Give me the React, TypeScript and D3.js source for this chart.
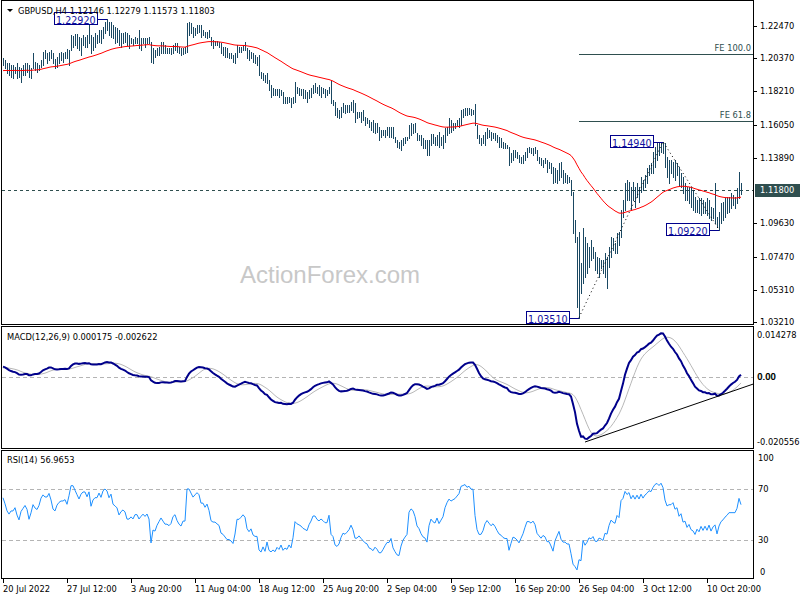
import * as d3 from "d3";

// GBPUSD H4 bars, 20 Jul 2022 04:00 .. 13 Oct 2022 16:00, prices in pips (x 1e-4)
const HIGH = [
  12038, 12025, 12006, 12006, 11993, 11993, 11980, 12006, 11980, 11973,
  11993, 12006, 12006, 11993, 11973, 12071, 12012, 12006, 11993, 12025,
  12077, 12090, 12071, 12077, 12090, 12071, 12032, 12045, 12071, 12077,
  12071, 12077, 12097, 12090, 12188, 12181, 12194, 12194, 12175, 12168,
  12188, 12175, 12188, 12253, 12188, 12175, 12201, 12188, 12220, 12220,
  12240, 12272, 12292, 12272, 12272, 12253, 12240, 12233, 12220, 12201,
  12201, 12207, 12201, 12188, 12168, 12162, 12175, 12168, 12220, 12168,
  12168, 12168, 12168, 12175, 12142, 12103, 12090, 12103, 12110, 12142,
  12142, 12123, 12103, 12103, 12103, 12123, 12136, 12136, 12110, 12103,
  12103, 12110, 12266, 12272, 12266, 12240, 12233, 12253, 12253, 12253,
  12220, 12207, 12207, 12220, 12175, 12155, 12149, 12149, 12142, 12136,
  12110, 12110, 12103, 12071, 12071, 12058, 12071, 12123, 12110, 12110,
  12123, 12142, 12103, 12090, 12077, 12071, 12058, 12045, 12058, 11947,
  11941, 11928, 11941, 11895, 11863, 11843, 11837, 11837, 11837, 11830,
  11817, 11785, 11785, 11785, 11778, 11785, 11882, 11850, 11843, 11837,
  11837, 11830, 11817, 11830, 11843, 11863, 11876, 11850, 11863, 11850,
  11843, 11837, 11830, 11850, 11895, 11765, 11752, 11713, 11700, 11720,
  11746, 11733, 11733, 11733, 11752, 11765, 11746, 11687, 11687, 11687,
  11700, 11655, 11648, 11635, 11622, 11635, 11616, 11616, 11590, 11570,
  11570, 11570, 11590, 11590, 11590, 11590, 11525, 11505, 11492, 11505,
  11518, 11525, 11525, 11603, 11616, 11609, 11616, 11551, 11538, 11538,
  11518, 11505, 11505, 11505, 11544, 11544, 11525, 11538, 11557, 11525,
  11538, 11583, 11590, 11648, 11635, 11616, 11616, 11635, 11648, 11700,
  11707, 11713, 11713, 11713, 11707, 11700, 11739, 11603, 11538, 11518,
  11538, 11557, 11583, 11570, 11557, 11551, 11551, 11538, 11525, 11518,
  11492, 11486, 11473, 11460, 11421, 11440, 11440, 11427, 11408, 11395,
  11408, 11427, 11453, 11460, 11453, 11453, 11460, 11440, 11395, 11388,
  11375, 11388, 11375, 11362, 11356, 11330, 11323, 11310, 11356, 11362,
  11310, 11291, 11278, 11265, 11245, 11167, 10985, 10875, 10907, 10706,
  10933, 10875, 10836, 10810, 10855, 10810, 10777, 10745, 10738, 10725,
  10725, 10771, 10745, 10810, 10875, 10868, 10836, 10901, 10907, 11050,
  11115, 11226, 11245, 11232, 11200, 11232, 11200, 11226, 11200, 11265,
  11245, 11278, 11323, 11343, 11356, 11427, 11460, 11486, 11492, 11492,
  11494, 11486, 11395, 11375, 11375, 11362, 11375, 11356, 11330, 11291,
  11265, 11226, 11200, 11200, 11200, 11180, 11135, 11115, 11128, 11128,
  11115, 11102, 11128, 11115, 11070, 11063, 11226, 11005, 11037, 11096,
  11102, 11128, 11135, 11135, 11161, 11148, 11135, 11193, 11297, 11228,
];

const LOW = [
  11993, 11973, 11941, 11928, 11915, 11908, 11941, 11908, 11915, 11882,
  11928, 11928, 11947, 11915, 11908, 11973, 11960, 11947, 11960, 11980,
  11993, 12038, 12006, 12025, 12038, 12006, 11973, 11980, 12006, 12025,
  12012, 12038, 12038, 11993, 12090, 12110, 12123, 12103, 12090, 12058,
  12123, 12110, 12110, 12136, 12071, 12090, 12110, 12136, 12142, 12136,
  12168, 12201, 12220, 12188, 12175, 12168, 12136, 12142, 12123, 12110,
  12136, 12142, 12123, 12103, 12136, 12123, 12136, 12136, 12103, 12090,
  12136, 12110, 12136, 12136, 12012, 12006, 12045, 12058, 12058, 12071,
  12071, 12071, 12071, 12071, 12064, 12071, 12090, 12077, 12071, 12058,
  12064, 12071, 12077, 12188, 12201, 12175, 12188, 12201, 12207, 12175,
  12188, 12175, 12168, 12175, 12123, 12103, 12123, 12123, 12110, 12071,
  12058, 12045, 12045, 12038, 12038, 12012, 12006, 12045, 12077, 12077,
  12090, 12090, 12038, 12025, 12038, 12012, 12006, 11993, 11928, 11908,
  11895, 11882, 11876, 11830, 11785, 11798, 11798, 11798, 11785, 11798,
  11746, 11746, 11746, 11752, 11720, 11746, 11752, 11811, 11798, 11798,
  11778, 11778, 11752, 11778, 11785, 11811, 11817, 11811, 11798, 11785,
  11811, 11785, 11798, 11811, 11746, 11733, 11668, 11655, 11648, 11655,
  11687, 11681, 11687, 11687, 11700, 11687, 11622, 11648, 11655, 11622,
  11635, 11603, 11616, 11590, 11570, 11557, 11551, 11557, 11505, 11525,
  11538, 11525, 11538, 11525, 11525, 11518, 11492, 11460, 11453, 11440,
  11473, 11486, 11505, 11518, 11538, 11551, 11557, 11505, 11505, 11473,
  11453, 11453, 11408, 11408, 11473, 11486, 11473, 11473, 11460, 11473,
  11453, 11492, 11538, 11551, 11557, 11570, 11583, 11603, 11590, 11603,
  11655, 11668, 11668, 11674, 11668, 11674, 11603, 11518, 11486, 11473,
  11486, 11473, 11518, 11525, 11505, 11518, 11505, 11492, 11460, 11460,
  11453, 11453, 11453, 11343, 11362, 11375, 11395, 11388, 11362, 11356,
  11356, 11375, 11395, 11427, 11421, 11408, 11421, 11375, 11356, 11343,
  11330, 11356, 11297, 11323, 11291, 11226, 11232, 11226, 11245, 11265,
  11226, 11232, 11226, 11232, 11148, 10901, 10842, 10420, 10351, 10511,
  10576, 10615, 10641, 10680, 10725, 10738, 10660, 10641, 10615, 10673,
  10641, 10615, 10543, 10680, 10745, 10790, 10771, 10771, 10823, 10875,
  11005, 11050, 11115, 11115, 11050, 11115, 11070, 11135, 11102, 11167,
  11180, 11200, 11226, 11278, 11291, 11291, 11330, 11375, 11408, 11427,
  11421, 11330, 11265, 11226, 11291, 11265, 11245, 11278, 11213, 11200,
  11161, 11115, 11115, 11096, 11070, 11050, 11037, 11037, 11031, 11018,
  11031, 11031, 11018, 10998, 10985, 10998, 10966, 10940, 10922, 10966,
  10985, 11005, 11031, 11037, 11063, 11083, 11063, 11096, 11128, 11157,
];

const CLOSE = [
  12006, 11986, 11960, 11947, 11960, 11960, 11973, 11947, 11928, 11960,
  11973, 11986, 11973, 11934, 11960, 11999, 11986, 11980, 11999, 12038,
  12058, 12051, 12051, 12071, 12051, 12019, 12012, 12038, 12051, 12058,
  12058, 12064, 12051, 12090, 12155, 12155, 12142, 12129, 12116, 12142,
  12155, 12155, 12142, 12168, 12123, 12155, 12168, 12168, 12194, 12181,
  12220, 12233, 12227, 12207, 12227, 12194, 12188, 12181, 12155, 12168,
  12175, 12168, 12142, 12142, 12149, 12142, 12155, 12155, 12142, 12149,
  12155, 12149, 12155, 12142, 12038, 12077, 12071, 12090, 12103, 12116,
  12103, 12090, 12090, 12084, 12090, 12110, 12116, 12097, 12084, 12077,
  12090, 12090, 12233, 12233, 12220, 12207, 12220, 12233, 12227, 12201,
  12201, 12188, 12201, 12181, 12142, 12136, 12136, 12129, 12123, 12090,
  12084, 12071, 12058, 12058, 12051, 12038, 12058, 12097, 12097, 12103,
  12110, 12103, 12064, 12051, 12058, 12032, 12025, 12025, 11941, 11921,
  11934, 11895, 11921, 11843, 11824, 11830, 11811, 11824, 11804, 11817,
  11765, 11772, 11759, 11772, 11746, 11778, 11843, 11830, 11824, 11817,
  11804, 11798, 11791, 11811, 11824, 11843, 11843, 11830, 11824, 11830,
  11824, 11817, 11817, 11837, 11759, 11746, 11687, 11674, 11681, 11700,
  11713, 11707, 11713, 11720, 11733, 11713, 11668, 11668, 11674, 11661,
  11648, 11635, 11629, 11603, 11596, 11583, 11590, 11577, 11551, 11551,
  11557, 11564, 11570, 11570, 11577, 11531, 11505, 11479, 11473, 11492,
  11505, 11512, 11518, 11583, 11596, 11590, 11570, 11531, 11518, 11492,
  11473, 11466, 11440, 11492, 11518, 11505, 11499, 11518, 11492, 11505,
  11518, 11557, 11583, 11603, 11596, 11603, 11609, 11622, 11635, 11681,
  11687, 11694, 11687, 11694, 11687, 11687, 11609, 11538, 11505, 11505,
  11518, 11544, 11557, 11544, 11531, 11538, 11525, 11505, 11486, 11479,
  11466, 11460, 11460, 11375, 11395, 11414, 11408, 11395, 11375, 11388,
  11401, 11421, 11440, 11440, 11434, 11440, 11427, 11388, 11375, 11362,
  11369, 11362, 11336, 11336, 11310, 11271, 11297, 11310, 11323, 11278,
  11258, 11258, 11245, 11245, 11161, 10953, 10855, 10650, 10712, 10673,
  10823, 10712, 10738, 10777, 10758, 10777, 10693, 10686, 10712, 10699,
  10673, 10725, 10712, 10777, 10823, 10803, 10790, 10855, 10836, 11018,
  11050, 11161, 11135, 11167, 11115, 11167, 11135, 11193, 11161, 11232,
  11200, 11245, 11271, 11310, 11304, 11369, 11421, 11440, 11427, 11466,
  11440, 11356, 11310, 11323, 11323, 11343, 11297, 11310, 11245, 11265,
  11193, 11200, 11141, 11161, 11109, 11096, 11057, 11089, 11063, 11096,
  11057, 11083, 11044, 11076, 11018, 11044, 11057, 10966, 11018, 11050,
  11063, 11083, 11096, 11115, 11115, 11115, 11115, 11141, 11213, 11180,
];

const X_TICK_BARS = [0, 32, 64, 96, 128, 160, 192, 224, 256, 288, 320, 352];
const X_TICK_LABELS = [
  "20 Jul 2022", "27 Jul 12:00", "3 Aug 20:00", "11 Aug 04:00", "18 Aug 12:00", "25 Aug 20:00",
  "2 Sep 04:00", "9 Sep 12:00", "16 Sep 20:00", "26 Sep 04:00", "3 Oct 12:00", "10 Oct 20:00",
];
const PRICE_TICKS = [1.2247, 1.2037, 1.1821, 1.1605, 1.1389, 1.0963, 1.0747, 1.0531, 1.0321];
const MACD_MAX = 0.014278;
const MACD_MIN = -0.020556;
const RSI_LEVELS = [70, 30];
const RSI_TICKS = [100, 70, 30, 0];

// swing points: [bar index, price]
const PIVOTS: [number, number][] = [[52, 1.2292], [288, 1.0351], [330, 1.1494], [358, 1.0922]];
const FE_RATIOS = [1.0, 0.618];
const FE_LABELS = ["FE 100.0", "FE 61.8"];
// MACD support line: [bar index, macd value]
const MACD_TREND: [number, number][] = [[291, -0.0187], [375, -0.0021]];

// indicator values at the first bar
const MA_SEED = 1.1954;
const EMA12_SEED = 1.1978;
const EMA26_SEED = 1.1949;
const SIGNAL_SEED = 0.0025;
const RSI_GAIN_SEED = 0.0012;
const RSI_LOSS_SEED = 0.0007;

const HEADER = "GBPUSD,H4  1.12146 1.12279 1.11573 1.11803";
const MACD_HEADER = "MACD(12,26,9) 0.000175 -0.002622";
const RSI_HEADER = "RSI(14) 56.9653";

const FONT = "Tahoma, 'DejaVu Sans', sans-serif";
const AXIS_X = 753;

function ema(src: number[], period: number, seed: number) {
  const k = 2 / (period + 1);
  let prev = seed;
  return src.map((v) => (prev = prev + k * (v - prev)));
}

export default function App() {
  const high = HIGH.map((v) => v / 10000);
  const low = LOW.map((v) => v / 10000);
  const close = CLOSE.map((v) => v / 10000);
  const n = close.length;
  const idx = d3.range(n);

  const x = d3.scaleLinear().domain([0, 375]).range([3, 753]);
  const y = d3.scaleLinear().domain([1.2415, 1.0309]).range([0, 324]);
  const ym = d3.scaleLinear().domain([MACD_MIN, MACD_MAX]).range([448.5, 327]);
  const yr = d3.scaleLinear().domain([0, 100]).range([578, 451]);

  const ma = ema(close, 55, MA_SEED);
  const e12 = ema(close, 12, EMA12_SEED);
  const e26 = ema(close, 26, EMA26_SEED);
  const macd = e12.map((v, i) => v - e26[i]);
  const signal = macd.map((_, i) => {
    let s = 0;
    for (let j = i - 8; j <= i; j++) s += j < 0 ? SIGNAL_SEED : macd[j];
    return s / 9;
  });
  let ag = RSI_GAIN_SEED;
  let al = RSI_LOSS_SEED;
  const rsi = close.map((c, i) => {
    if (i > 0) {
      const ch = c - close[i - 1];
      ag = (ag * 13 + Math.max(ch, 0)) / 14;
      al = (al * 13 + Math.max(-ch, 0)) / 14;
    }
    return 100 - 100 / (1 + ag / al);
  });

  const line = (ys: number[], sy: (v: number) => number) =>
    d3.line<number>().x((i) => x(i)).y((i) => sy(ys[i]))(idx) || "";

  const [p1, p2, p3] = [PIVOTS[1], PIVOTS[2], PIVOTS[3]];
  const feLevels = FE_RATIOS.map((r) => p3[1] + r * (p2[1] - p1[1]));
  const last = close[n - 1];

  const small = { fontFamily: FONT, fontSize: 8.3 };

  return (
    <svg width={800} height={600} style={{ position: "absolute", left: 0, top: 0, background: "#fff" }}>
      <defs>
        <clipPath id="cmain"><rect x={2} y={1} width={751} height={323} /></clipPath>
        <clipPath id="cmacd"><rect x={2} y={327} width={751} height={121} /></clipPath>
        <clipPath id="crsi"><rect x={2} y={451} width={751} height={127} /></clipPath>
      </defs>
      <rect width={800} height={600} fill="#fff" />

      {/* watermark */}
      <text x={240} y={283} fontFamily="'Liberation Sans', Arial, sans-serif" fontSize={24} fill="#c8c8c8">
        ActionForex.com
      </text>

      {/* panel frames */}
      <g fill="none" stroke="#000" shapeRendering="crispEdges">
        <rect x={1.5} y={0.5} width={AXIS_X - 1.5} height={324} />
        <rect x={1.5} y={326.5} width={AXIS_X - 1.5} height={122} />
        <rect x={1.5} y={450.5} width={AXIS_X - 1.5} height={128} />
      </g>

      {/* price panel */}
      <g clipPath="url(#cmain)">
        <line x1={2} x2={AXIS_X} y1={Math.round(y(last)) + 0.5} y2={Math.round(y(last)) + 0.5}
          stroke="#2f4f4f" strokeDasharray="3,3" shapeRendering="crispEdges" />
        {FE_RATIOS.map((r, k) => (
          <g key={r}>
            <line x1={x(p1[0])} x2={AXIS_X} y1={Math.round(y(feLevels[k])) + 0.5} y2={Math.round(y(feLevels[k])) + 0.5}
              stroke="#2f4f4f" shapeRendering="crispEdges" />
            <text x={AXIS_X - 2} y={y(feLevels[k]) - 3} textAnchor="end" fill="#2f4f4f" {...small}>{FE_LABELS[k]}</text>
          </g>
        ))}
        <g stroke="#1a4862" shapeRendering="crispEdges">
          {idx.map((i) => (
            <line key={i} x1={x(i) + 0.5} x2={x(i) + 0.5} y1={y(high[i])} y2={y(low[i]) + 1} />
          ))}
        </g>
        <path d={line(ma, y)} fill="none" stroke="#ff0000" strokeWidth={1} />
        <path d={d3.line<[number, number]>().x((d) => x(d[0])).y((d) => y(d[1]))([p1, p2, p3]) || ""}
          fill="none" stroke="#000" strokeDasharray="1,3" />
        {PIVOTS.map(([b, p]) => {
          const bx = x(b);
          const py = Math.round(y(p)) + 0.5;
          const right = bx - 10;
          return (
            <g key={b}>
              <line x1={right} x2={bx} y1={py} y2={py} stroke="#00008b" shapeRendering="crispEdges" />
              <rect x={Math.round(right - 43) + 0.5} y={Math.round(py - 6.5) - 0.5} width={43} height={12}
                fill="#fff" stroke="#00008b" shapeRendering="crispEdges" />
              <text x={right - 41} y={py + 4} fontFamily={FONT} fontSize={9.6} fill="#1010a0">{p.toFixed(5)}</text>
            </g>
          );
        })}
      </g>

      {/* header */}
      <polygon points="7,9 13,9 10,12" fill="#000" />
      <text x={18} y={14} fill="#000" {...small}>{HEADER}</text>

      {/* price axis */}
      {PRICE_TICKS.map((t) => (
        <g key={t}>
          <line x1={AXIS_X} x2={AXIS_X + 4} y1={Math.round(y(t)) + 0.5} y2={Math.round(y(t)) + 0.5} stroke="#000" shapeRendering="crispEdges" />
          <text x={760} y={y(t) + 3} fill="#000" {...small}>{t.toFixed(5)}</text>
        </g>
      ))}
      <rect x={755} y={Math.round(y(last)) - 6} width={45} height={13} fill="#2f4f4f" />
      <text x={760} y={y(last) + 3} fill="#fff" {...small}>{last.toFixed(5)}</text>

      {/* MACD panel */}
      <text x={7} y={340} fill="#000" {...small}>{MACD_HEADER}</text>
      <g clipPath="url(#cmacd)">
        <line x1={2} x2={AXIS_X} y1={Math.round(ym(0)) + 0.5} y2={Math.round(ym(0)) + 0.5} stroke="#b4b4b4" strokeDasharray="4,3" shapeRendering="crispEdges" />
        <path d={line(signal, ym)} fill="none" stroke="#b8b8b8" strokeWidth={1} />
        <path d={line(macd, ym)} fill="none" stroke="#00008b" strokeWidth={2} />
        <line x1={x(MACD_TREND[0][0])} y1={ym(MACD_TREND[0][1])} x2={x(MACD_TREND[1][0])} y2={ym(MACD_TREND[1][1])} stroke="#000" strokeWidth={1} />
      </g>
      <text x={757} y={ym(MACD_MAX) + 11} fill="#000" {...small}>{MACD_MAX.toFixed(6)}</text>
      <text x={757} y={ym(0) + 3} fill="#000" {...small}>0.00</text>
      <text x={757.6} y={ym(0) + 3} fill="#000" {...small}>0.00</text>
      <text x={757} y={ym(MACD_MIN) - 3.5} fill="#000" {...small}>{MACD_MIN.toFixed(6)}</text>

      {/* RSI panel */}
      <text x={7} y={463} fill="#000" {...small}>{RSI_HEADER}</text>
      <g clipPath="url(#crsi)">
        {RSI_LEVELS.map((l) => (
          <line key={l} x1={2} x2={AXIS_X} y1={Math.round(yr(l)) + 0.5} y2={Math.round(yr(l)) + 0.5} stroke="#b4b4b4" strokeDasharray="4,3" shapeRendering="crispEdges" />
        ))}
        <path d={line(rsi, yr)} fill="none" stroke="#1e90ff" strokeWidth={1} />
      </g>
      {RSI_TICKS.map((t) => {
        const ty = t === 100 ? yr(t) + 10 : t === 0 ? yr(t) - 3 : yr(t) + 3;
        return <text key={t} x={t === 0 ? 760 : 758} y={ty} fill="#000" {...small}>{t}</text>;
      })}

      {/* time axis */}
      {X_TICK_BARS.map((b, k) => (
        <g key={b}>
          <line x1={x(b) + 0.5} x2={x(b) + 0.5} y1={578} y2={583} stroke="#000" shapeRendering="crispEdges" />
          <text x={x(b)} y={592} fill="#000" {...small}>{X_TICK_LABELS[k]}</text>
        </g>
      ))}
    </svg>
  );
}
